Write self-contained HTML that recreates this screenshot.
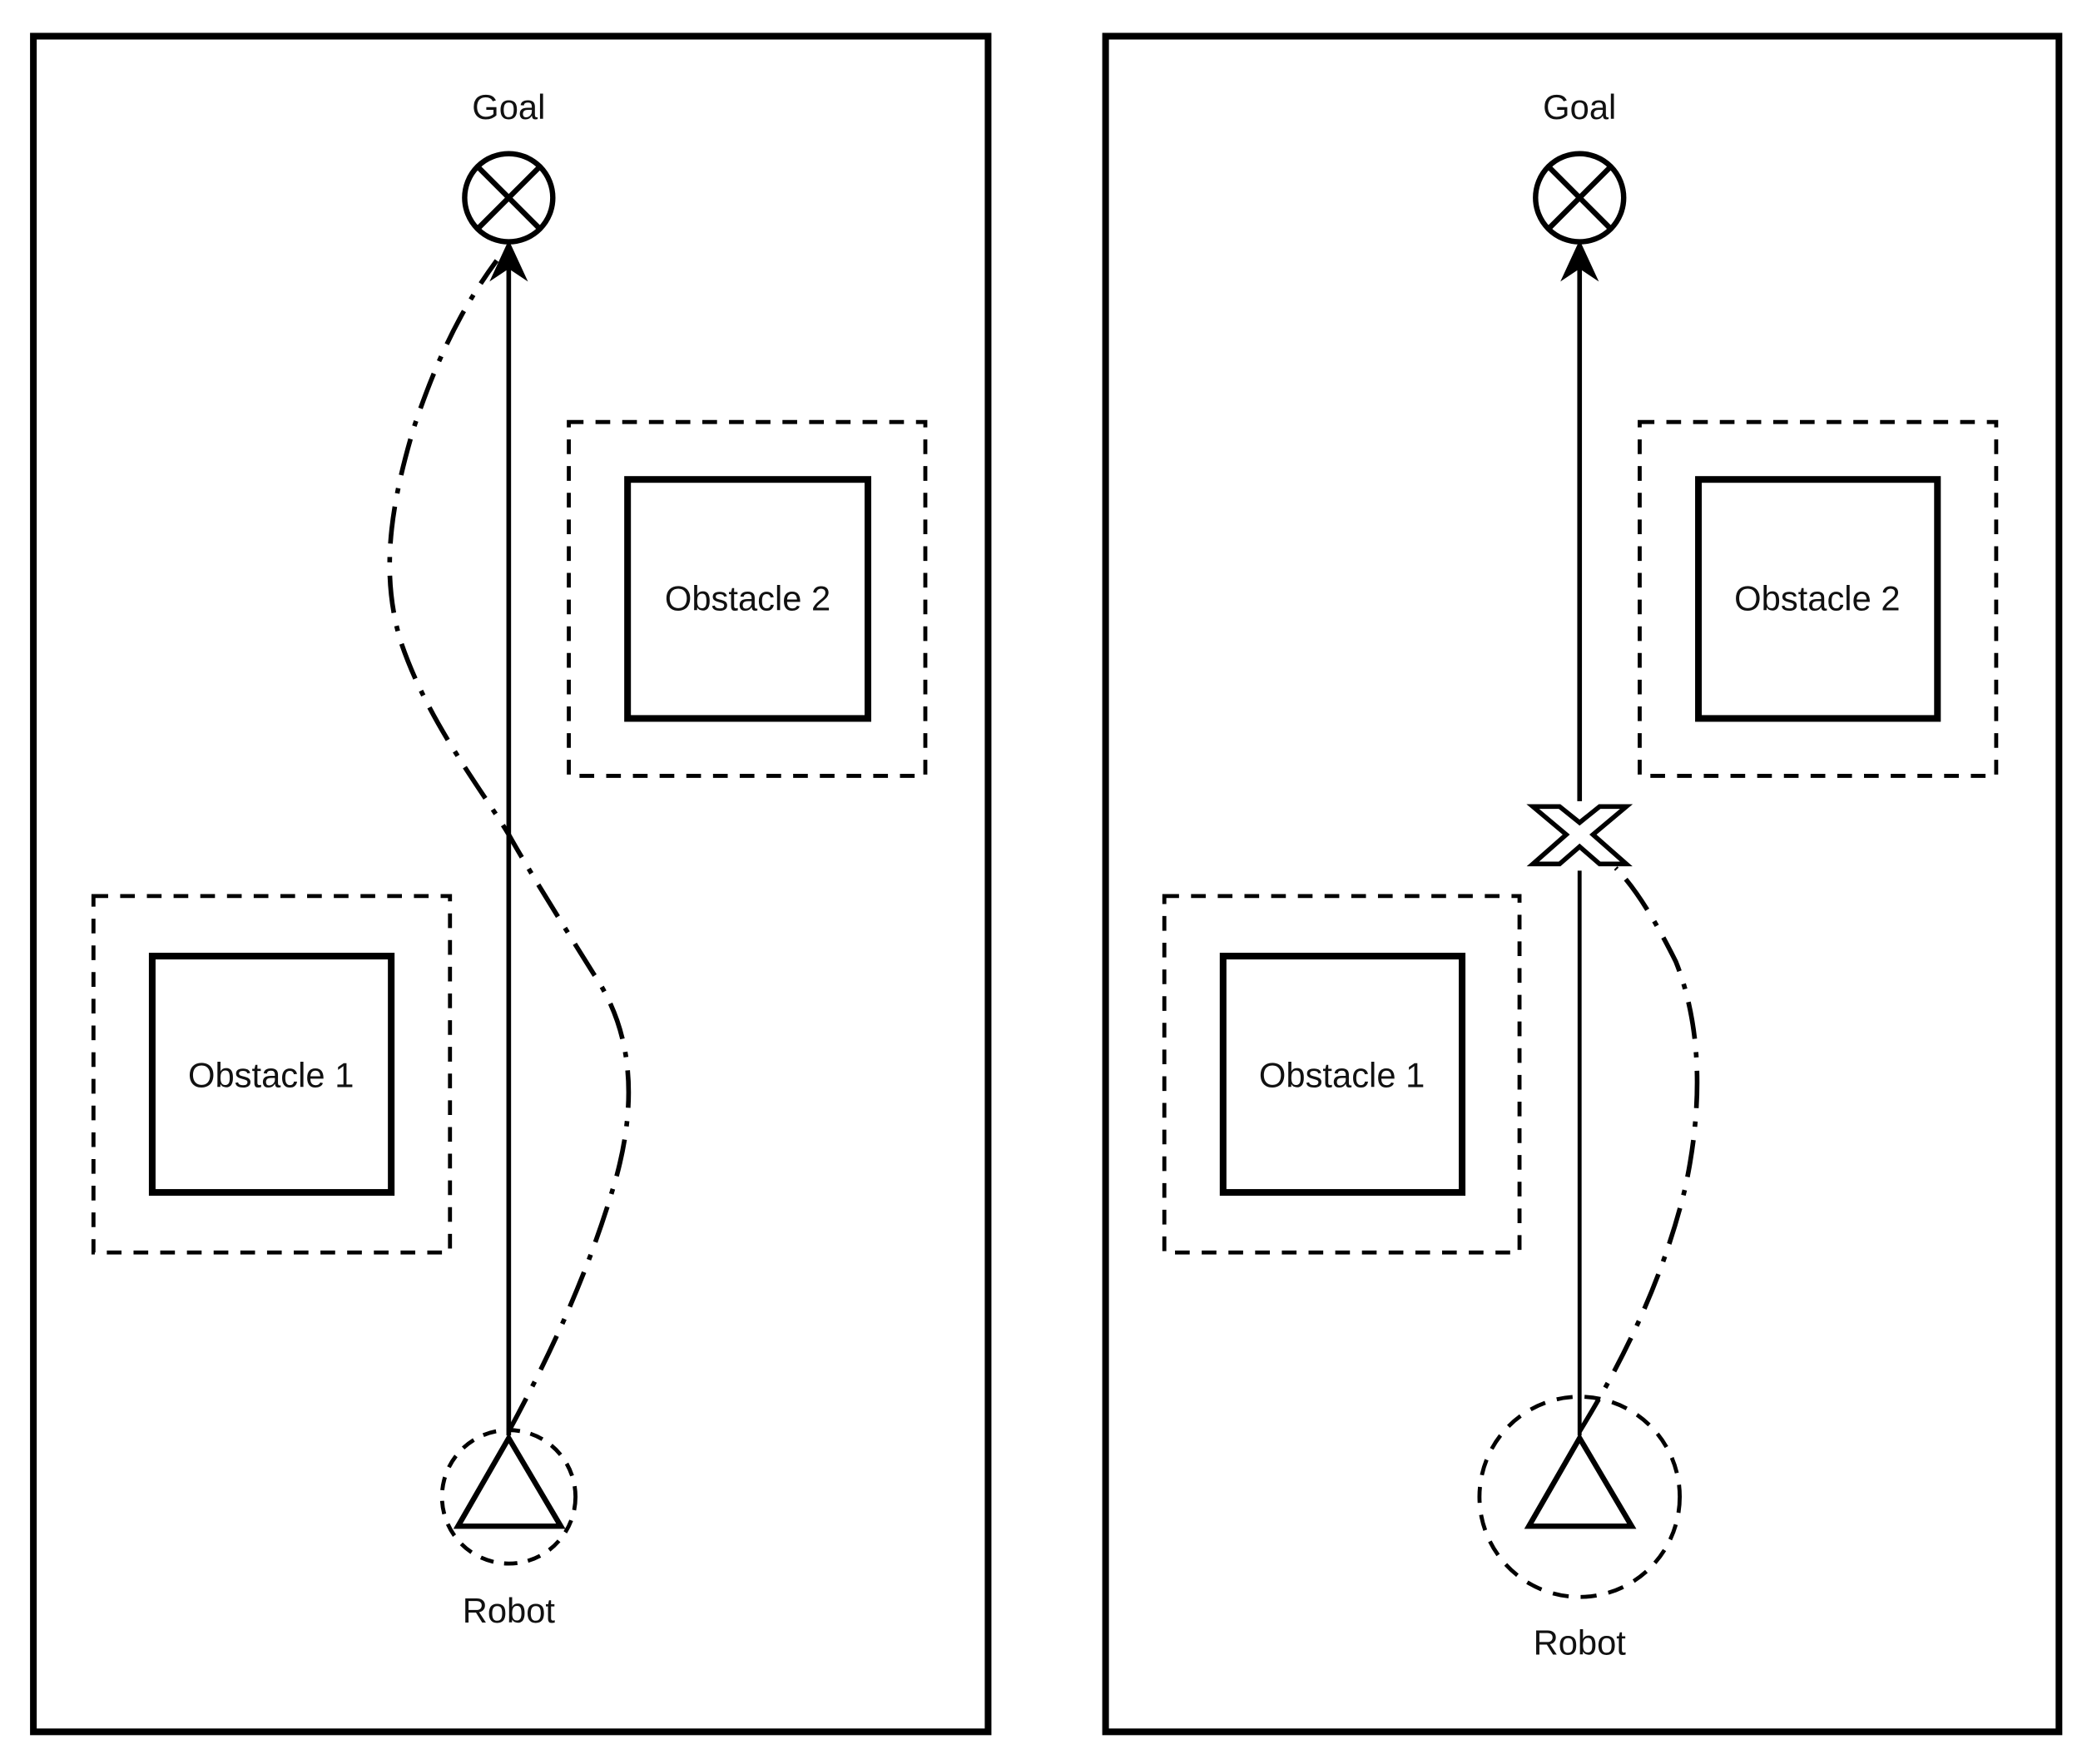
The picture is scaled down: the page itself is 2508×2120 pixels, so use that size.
<!DOCTYPE html>
<html><head><meta charset="utf-8"><style>
html,body{margin:0;padding:0;background:#fff;}
svg{display:block}
text{font-family:"Liberation Sans",sans-serif;font-size:26px;fill:#111;text-anchor:middle}
</style></head><body>
<svg width="2508" height="2120" viewBox="0 0 1563 1321" xmlns="http://www.w3.org/2000/svg">
<g fill="none" stroke="#000">
<rect x="25" y="27" width="715" height="1270" stroke-width="5"/>
<rect x="828" y="27" width="714" height="1270" stroke-width="5"/>

<circle cx="381" cy="148" r="33" stroke-width="4"/>
<line x1="358" y1="125" x2="404" y2="171" stroke-width="4"/>
<line x1="404" y1="125" x2="358" y2="171" stroke-width="4"/>
<line x1="381" y1="1075" x2="381" y2="195" stroke-width="3.5"/>
<path d="M381 182 L369 208 L381 200 L393 208 Z" fill="#000" stroke-width="2"/>
<rect x="426" y="316" width="267" height="265" stroke-width="3" stroke-dasharray="11,9"/>
<rect x="470" y="359" width="180" height="179" stroke-width="5"/>
<rect x="70" y="671" width="267" height="267" stroke-width="3" stroke-dasharray="11,9"/>
<rect x="114" y="716" width="179" height="177" stroke-width="5"/>
<circle cx="381" cy="1121" r="50" stroke-width="3" stroke-dasharray="10,8"/>
<path d="M381 1077 L343 1143 L420 1143 Z" stroke-width="4"/>
<path d="M381 1072 C420 1000 445 940 462 880 C478 820 472 770 445 730 C420 690 395 650 381 625 C360 590 320 540 300 480 C285 430 292 380 310 320 C330 260 350 225 372 195" stroke-width="3.5" stroke-dasharray="28,10,4,10"/>

<circle cx="1183" cy="148" r="33" stroke-width="4"/>
<line x1="1160" y1="125" x2="1206" y2="171" stroke-width="4"/>
<line x1="1206" y1="125" x2="1160" y2="171" stroke-width="4"/>
<line x1="1183" y1="600" x2="1183" y2="195" stroke-width="3.5"/>
<line x1="1183" y1="652" x2="1183" y2="1075" stroke-width="3"/>
<path d="M1183 182 L1171 208 L1183 200 L1195 208 Z" fill="#000" stroke-width="2"/>
<path d="M1148 604 L1168 604 L1183 616 L1198 604 L1218 604 L1193 625 L1218 647 L1198 647 L1183 634 L1168 647 L1148 647 L1173 625 Z" fill="#fff" stroke-width="3.5"/>
<rect x="1228" y="316" width="267" height="265" stroke-width="3" stroke-dasharray="11,9"/>
<rect x="1272" y="359" width="179" height="179" stroke-width="5"/>
<rect x="872" y="671" width="266" height="267" stroke-width="3" stroke-dasharray="11,9"/>
<rect x="916" y="716" width="179" height="177" stroke-width="5"/>
<circle cx="1183" cy="1121" r="75" stroke-width="3" stroke-dasharray="12,9"/>
<path d="M1183 1077 L1145 1143 L1222 1143 Z" stroke-width="4"/>
<path d="M1183 1072 C1215 1020 1245 960 1262 890 C1275 830 1275 770 1255 720 C1240 690 1225 665 1210 650" stroke-width="3.5" stroke-dasharray="28,10,4,10"/>
</g>
<text x="381" y="89">Goal</text>
<text x="560" y="457">Obstacle 2</text>
<text x="203" y="814">Obstacle 1</text>
<text x="381" y="1215">Robot</text>
<text x="1183" y="89">Goal</text>
<text x="1361" y="457">Obstacle 2</text>
<text x="1005" y="814">Obstacle 1</text>
<text x="1183" y="1239">Robot</text>
</svg>
</body></html>
